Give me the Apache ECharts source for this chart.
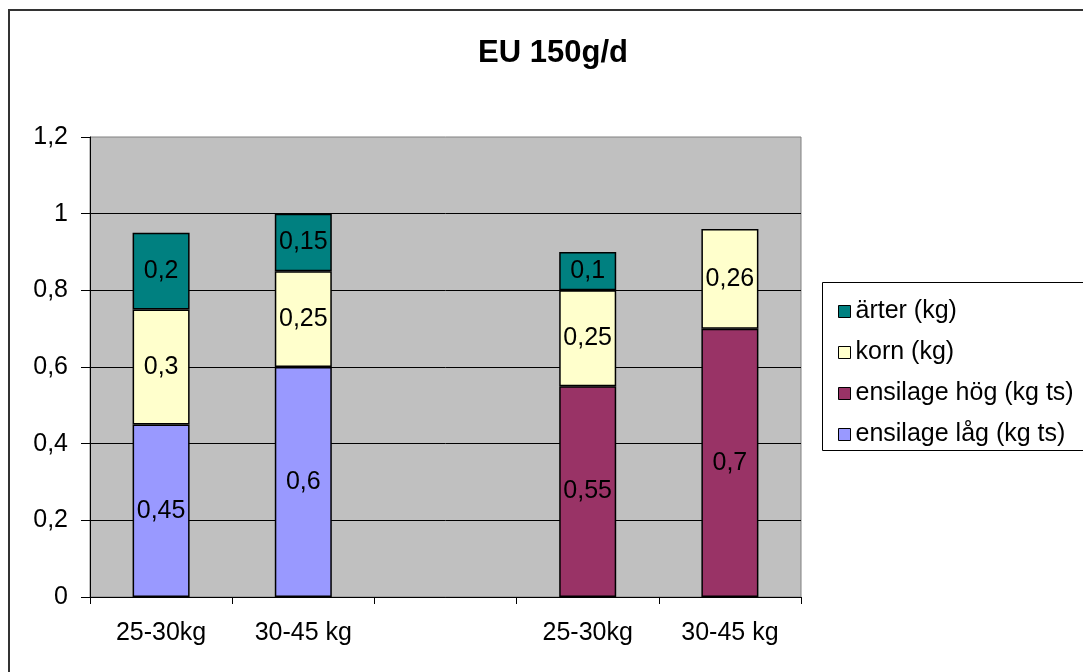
<!DOCTYPE html>
<html>
<head>
<meta charset="utf-8">
<script src="https://cdn.jsdelivr.net/npm/echarts@6/dist/echarts.min.js"></script>
<style>
  html, body { margin: 0; padding: 0; background: #fff; }
  #chart { width: 1083px; height: 672px; }
</style>
</head>
<body>
<div id="chart"></div>
<script>
// Feed rations per weight class (kg per day)
const categories = ['25-30kg', '30-45 kg', '', '25-30kg', '30-45 kg'];
const ensilageLag = [0.45, 0.6, '-', '-', '-'];
const ensilageHog = ['-', '-', '-', 0.55, 0.7];
const korn = [0.3, 0.25, '-', 0.25, 0.26];
const arter = [0.2, 0.15, '-', 0.1, '-'];
const yMin = 0, yMax = 1.2, yStep = 0.2;

const FONT = 'Liberation Sans, Arial, sans-serif';
const comma = v => String(+(+v).toFixed(2)).replace('.', ',');

const labelStyle = {
  show: true,
  position: 'inside',
  color: '#000',
  fontFamily: FONT,
  fontSize: 25,
  formatter: p => comma(p.value)
};

function barSeries(name, data, color) {
  return {
    name, type: 'bar', stack: 'feed', data,
    barWidth: 57,
    itemStyle: { color, borderColor: '#000', borderWidth: 1.5 },
    label: labelStyle,
    emphasis: { disabled: true }
  };
}

const chart = echarts.init(document.getElementById('chart'), null, { renderer: 'canvas' });
chart.setOption({
  animation: false,
  backgroundColor: '#fff',
  textStyle: { fontFamily: FONT },
  grid: {
    left: 90, right: 282, top: 137, bottom: 75,
    show: true, backgroundColor: '#C0C0C0', borderColor: '#808080', borderWidth: 1
  },
  graphic: [
    { type: 'rect', z: -10, shape: { x: 9, y: 10, width: 1100, height: 700 },
      style: { fill: 'none', stroke: '#333', lineWidth: 2 } },
    { type: 'rect', z: 1, shape: { x: 822.5, y: 282.5, width: 300, height: 168 },
      style: { fill: '#fff', stroke: '#000', lineWidth: 1 } },
    { type: 'text', z: 5, x: 553, y: 53,
      style: { text: 'EU 150g/d', fontFamily: FONT, fontSize: 31, fontWeight: 'bold',
               fill: '#000', align: 'center', verticalAlign: 'middle' } }
  ],
  legend: {
    orient: 'vertical', left: 833, top: 294, z: 10,
    itemWidth: 12, itemHeight: 12, itemGap: 16,
    icon: 'rect',
    data: ['ärter (kg)', 'korn (kg)', 'ensilage hög (kg ts)', 'ensilage låg (kg ts)'],
    itemStyle: { borderColor: '#000', borderWidth: 1 },
    textStyle: { fontFamily: FONT, fontSize: 25, color: '#000' }
  },
  xAxis: {
    type: 'category', data: categories,
    axisLine: { lineStyle: { color: '#000', width: 1 } },
    axisTick: { show: true, length: 7, lineStyle: { color: '#000' } },
    axisLabel: { color: '#000', fontFamily: FONT, fontSize: 25, margin: 24, interval: 0 }
  },
  yAxis: {
    type: 'value', min: yMin, max: yMax, interval: yStep,
    axisLine: { show: true, lineStyle: { color: '#000', width: 1 } },
    axisTick: { show: true, length: 9, lineStyle: { color: '#000' } },
    axisLabel: { color: '#000', fontFamily: FONT, fontSize: 25, margin: 22, formatter: comma },
    splitLine: { show: true, showMaxLine: false, lineStyle: { color: '#000', width: 1 } }
  },
  series: [
    barSeries('ensilage låg (kg ts)', ensilageLag, '#9999FF'),
    barSeries('ensilage hög (kg ts)', ensilageHog, '#993366'),
    barSeries('korn (kg)', korn, '#FFFFCC'),
    barSeries('ärter (kg)', arter, '#008080')
  ]
});
</script>
</body>
</html>
